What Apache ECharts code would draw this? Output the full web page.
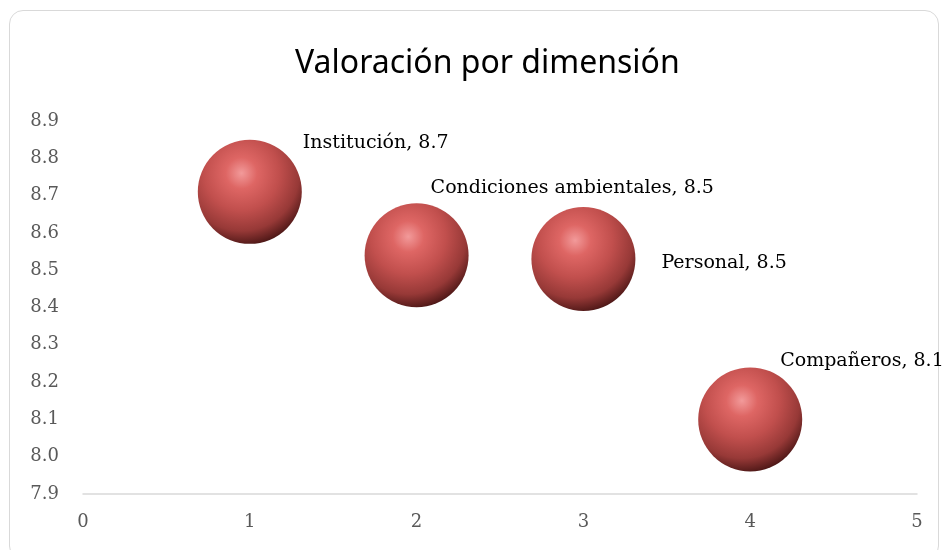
<!DOCTYPE html>
<html>
<head>
<meta charset="utf-8">
<script src="https://cdn.jsdelivr.net/npm/echarts@6/dist/echarts.min.js"></script>
<style>
  html, body { margin: 0; padding: 0; background: #fff; }
  #frame {
    position: absolute; left: 9px; top: 10px; width: 930px; height: 550px;
    border: 1px solid #d9d9d9; border-radius: 14px; box-sizing: border-box;
  }
  #chart { position: absolute; left: 0; top: 0; width: 948px; height: 550px; }
</style>
</head>
<body>
<div id="frame"></div>
<div id="chart"></div>
<script>
const names = ['Institución', 'Condiciones ambientales', 'Personal', 'Compañeros']
const xValues = [1, 2, 3, 4]
const yValues = [8.71, 8.54, 8.53, 8.10]
const shownValues = ['8.7', '8.5', '8.5', '8.1']
const yTicks = ['7.9', '8.0', '8.1', '8.2', '8.3', '8.4', '8.5', '8.6', '8.7', '8.8', '8.9']

// label offsets around each bubble (pixels, from bubble top-left)
const labelPos = [[105, 3], [66, -15], [130, 56], [82, -6]]

const chart = echarts.init(document.getElementById('chart'))

const sphere = new echarts.graphic.RadialGradient(0.42, 0.32, 0.75, [
  { offset: 0, color: '#f29a9a' },
  { offset: 0.2, color: '#de6664' },
  { offset: 0.48, color: '#c14f4d' },
  { offset: 0.74, color: '#973937' },
  { offset: 0.9, color: '#5a1d1c' },
  { offset: 1, color: '#2a0a0a' }
])

const option = {
  animation: false,
  title: {
    text: 'Valoración por dimensión',
    left: 290,
    top: 43,
    textStyle: { fontFamily: 'Noto Sans', fontSize: 32, fontWeight: 'normal', color: '#000' }
  },
  grid: { left: 83, right: 31, top: 121, bottom: 56 },
  xAxis: {
    type: 'value',
    min: 0,
    max: 5,
    interval: 1,
    axisLine: { show: true, lineStyle: { color: '#d9d9d9', width: 1.5 } },
    axisTick: { show: false },
    splitLine: { show: false },
    axisLabel: { color: '#595959', fontFamily: 'DejaVu Serif', fontSize: 18, margin: 19 }
  },
  yAxis: {
    type: 'value',
    min: 7.9,
    max: 8.9,
    interval: 0.1,
    axisLine: { show: false },
    axisTick: { show: false },
    splitLine: { show: false },
    axisLabel: {
      color: '#595959', fontFamily: 'DejaVu Serif', fontSize: 18, margin: 24,
      formatter: (v) => yTicks[Math.round((v - 7.9) * 10)]
    }
  },
  series: [{
    type: 'scatter',
    symbolSize: 104,
    itemStyle: { color: sphere, opacity: 1 },
    data: xValues.map((x, i) => ({
      value: [x, yValues[i]],
      label: {
        show: true,
        position: labelPos[i],
        align: 'left',
        verticalAlign: 'middle',
        formatter: names[i] + ', ' + shownValues[i],
        color: '#000',
        fontFamily: 'DejaVu Serif',
        fontSize: 19
      }
    }))
  }]
}

chart.setOption(option)
</script>
</body>
</html>
